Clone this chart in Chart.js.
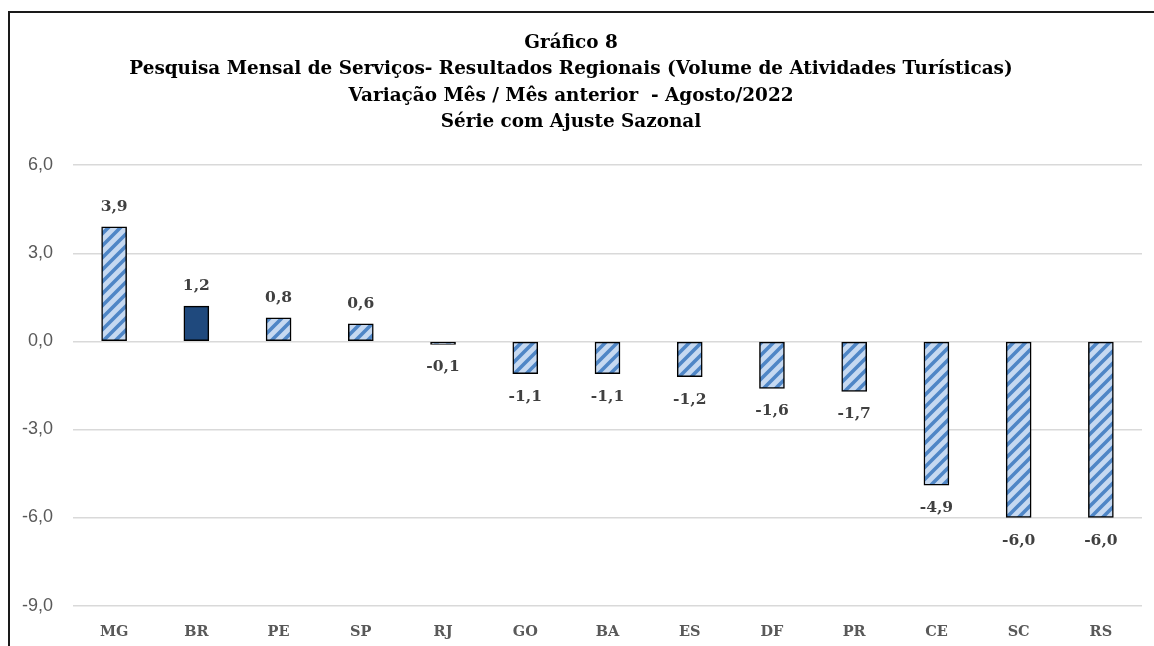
<!DOCTYPE html>
<html>
<head>
<meta charset="utf-8">
<script src="https://cdn.jsdelivr.net/npm/chart.js@4/dist/chart.umd.min.js"></script>
<style>
  html, body { margin: 0; padding: 0; background: #fff; overflow: hidden; }
  #frame { position: absolute; left: 8px; top: 11px; width: 2000px; height: 2000px; border: 2px solid #1a1a1a; }
  #wrap { position: absolute; left: 0; top: 0; width: 1178px; height: 664px; }
</style>
</head>
<body>
<div id="frame"></div>
<div id="wrap"><canvas id="grafico"></canvas></div>
<script>
// Dados
const regioes = ["MG", "BR", "PE", "SP", "RJ", "GO", "BA", "ES", "DF", "PR", "CE", "SC", "RS"];
const variacao = [3.9, 1.2, 0.8, 0.6, -0.1, -1.1, -1.1, -1.2, -1.6, -1.7, -4.9, -6.0, -6.0];
const titulo = [
    "Gráfico 8",
    "Pesquisa Mensal de Serviços- Resultados Regionais (Volume de Atividades Turísticas)",
    "Variação Mês / Mês anterior  - Agosto/2022",
    "Série com Ajuste Sazonal"
];

// Hachura diagonal azul
function makeHatch() {
    const size = 12;
    const c = document.createElement("canvas");
    c.width = size; c.height = size;
    const g = c.getContext("2d");
    g.fillStyle = "#c6d9f1";
    g.fillRect(0, 0, size, size);
    g.strokeStyle = "#4f86c6";
    g.lineWidth = 3.6;
    g.beginPath();
    g.moveTo(-2, size + 2); g.lineTo(size + 2, -2);
    g.moveTo(-3, 3); g.lineTo(3, -3);
    g.moveTo(size - 3, size + 3); g.lineTo(size + 3, size - 3);
    g.stroke();
    return g.createPattern(c, "repeat");
}
const hatch = makeHatch();
const cores = regioes.map(r => r === "BR" ? "#1f497d" : hatch);

const fmt = v => v.toFixed(1).replace(".", ",");

// Rótulos de dados acima/abaixo das barras
const rotulos = {
    id: "rotulos",
    afterDatasetsDraw(chart) {
        const ctx = chart.ctx;
        const meta = chart.getDatasetMeta(0);
        ctx.save();
        ctx.font = "bold 15.5px 'DejaVu Serif'";
        ctx.fillStyle = "#404040";
        ctx.textAlign = "center";
        ctx.textBaseline = "middle";
        meta.data.forEach((bar, i) => {
            const v = variacao[i];
            const y = v >= 0 ? bar.y - 20 : bar.y + 23;
            ctx.fillText(fmt(v), bar.x, y);
        });
        ctx.restore();
    }
};

const ctx = document.getElementById("grafico").getContext("2d");
new Chart(ctx, {
    type: "bar",
    data: {
        labels: regioes,
        datasets: [{
            data: variacao,
            backgroundColor: cores,
            borderColor: "#000",
            borderWidth: 1.5,
            borderSkipped: false,
            barThickness: 25
        }]
    },
    options: {
        responsive: true,
        maintainAspectRatio: false,
        animation: false,
        layout: { padding: { left: 0, right: 36, top: 0, bottom: 5 } },
        plugins: {
            legend: { display: false },
            tooltip: { enabled: false },
            title: {
                display: true,
                text: titulo,
                color: "#000",
                font: { family: "'DejaVu Serif'", size: 18.4, weight: "bold", lineHeight: 1.43 },
                padding: { top: 30, bottom: 30 }
            }
        },
        scales: {
            x: {
                grid: { display: false, drawTicks: false },
                border: { display: false },
                ticks: {
                    color: "#595959",
                    padding: 18,
                    font: { family: "'DejaVu Serif'", size: 14.5, weight: "bold" }
                }
            },
            y: {
                min: -9,
                max: 6,
                afterFit(scale) { scale.width = 73; },
                grid: { color: "#d9d9d9", lineWidth: 1.5, drawTicks: false },
                border: { display: false },
                ticks: {
                    stepSize: 3,
                    padding: 20,
                    color: "#595959",
                    font: { family: "'Liberation Sans'", size: 18 },
                    callback: v => fmt(v)
                }
            }
        }
    },
    plugins: [rotulos]
});
</script>
</body>
</html>
